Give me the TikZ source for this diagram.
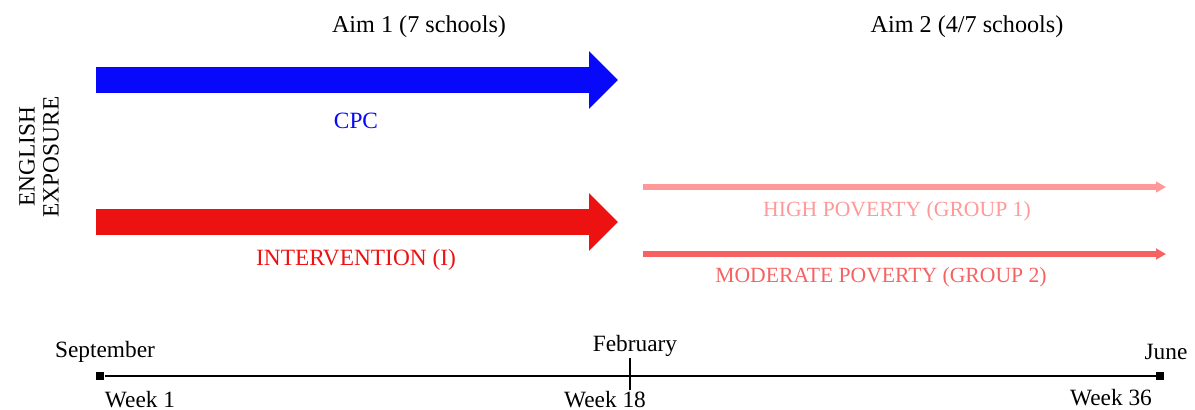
\documentclass[tikz,border=0pt]{standalone}
\usepackage{fontspec}
\setmainfont{Liberation Serif}
\usetikzlibrary{arrows.meta}

\definecolor{cpcblue}{RGB}{8,8,250}
\definecolor{intred}{RGB}{236,18,18}
\definecolor{highpink}{RGB}{255,152,152}
\definecolor{modpink}{RGB}{246,98,98}

\tikzset{
  lbl/.style={font=\fontsize{16.6}{19}\selectfont, inner sep=0pt},
  head/.style={font=\fontsize{17.2}{20}\selectfont, inner sep=0pt},
  small/.style={font=\fontsize{15.4}{18}\selectfont, inner sep=0pt},
  bigarrow/.style={line width=18.5pt, -{Triangle[length=20.6pt,width=39.8pt]}},
  thinarrow/.style={-{Triangle[length=7pt,width=7.5pt]}},
  endbox/.style={fill=black, minimum size=6pt, inner sep=0pt}
}

\begin{document}
\begin{tikzpicture}[x=0.025cm, y=-0.025cm, line cap=butt]
  \useasboundingbox (0,0) rectangle (1195,409);

  % headings
  \node[head] (aim1) at (419,27) {Aim 1 (7 schools)};
  \node[head] (aim2) at (967,27) {Aim 2 (4/7 schools)};

  % y axis label
  \node[lbl, rotate=90, align=center] (expo) at (39,157) {ENGLISH\\[-2pt]EXPOSURE};

  % aim 1 arrows
  \coordinate (cpcS) at (96,80);   \coordinate (cpcE) at (618,80);
  \coordinate (intS) at (96,222);  \coordinate (intE) at (618,222);
  \draw[bigarrow, cpcblue] (cpcS) -- (cpcE);
  \draw[bigarrow, intred]  (intS) -- (intE);
  \node[lbl, text=cpcblue] (cpc) at (356,121) {CPC};
  \node[lbl, text=intred] (int) at (356,260) {INTERVENTION (I)};

  % aim 2 arrows
  \coordinate (hiS) at (643,187);  \coordinate (hiE) at (1166,187);
  \coordinate (moS) at (643,254);  \coordinate (moE) at (1166,254);
  \draw[thinarrow, highpink, line width=3.6pt] (hiS) -- (hiE);
  \draw[thinarrow, modpink, line width=4.2pt] (moS) -- (moE);
  \node[small, text=highpink] (hi) at (897,211) {HIGH POVERTY (GROUP 1)};
  \node[small, text=modpink] (mo) at (881,277) {MODERATE POVERTY (GROUP 2)};

  % timeline
  \node[endbox] (t0) at (100,376) {};
  \node[endbox] (t36) at (1160,376) {};
  \coordinate (t18) at (630,376);
  \draw[line width=0.9pt] (t0) -- (t36);
  \draw[line width=0.9pt] ([yshift=-10]t18) -- ([yshift=13]t18);

  \node[lbl] (sep) at (105,352) {September};
  \node[lbl] (feb) at (635,346) {February};
  \node[lbl] (jun) at (1166,352) {June};
  \node[lbl, anchor=base] (w1) at (140,407) {Week 1};
  \node[lbl, anchor=base] (w18) at (605,407) {Week 18};
  \node[lbl, anchor=base] (w36) at (1111,405) {Week 36};
\end{tikzpicture}
\end{document}
